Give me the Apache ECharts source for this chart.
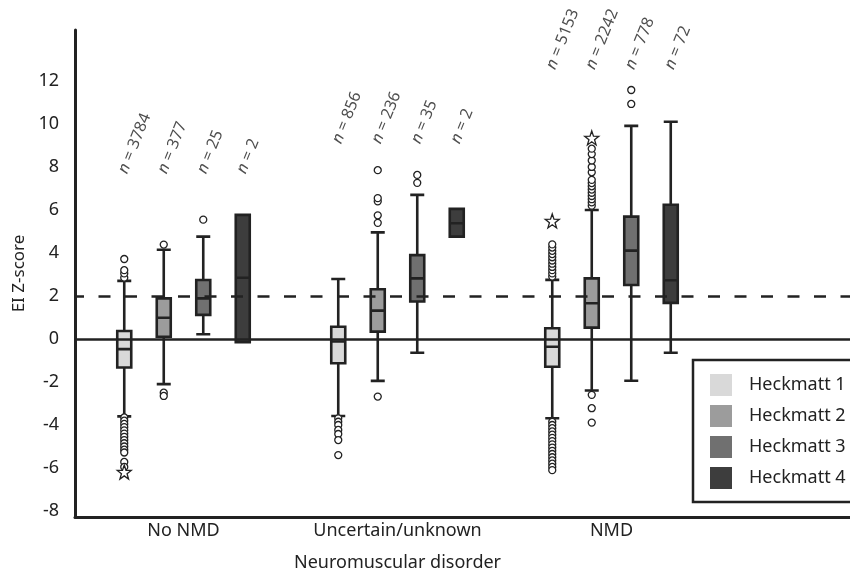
<!DOCTYPE html>
<html><head><meta charset="utf-8">
<script src="https://cdn.jsdelivr.net/npm/echarts@6/dist/echarts.min.js"></script>
<style>html,body{margin:0;padding:0;background:#fff}#c{width:850px;height:574px}</style>
</head><body><div id="c"></div>
<script>
// ---------------- DATA ----------------
const categories = ['No NMD', 'Uncertain/unknown', 'NMD'];
const seriesNames = ['Heckmatt 1', 'Heckmatt 2', 'Heckmatt 3', 'Heckmatt 4'];
const yTickLabels = [-8, -6, -4, -2, 0, 2, 4, 6, 8, 10, 12];
const referenceLines = [0, 2];

// [lower whisker, Q1, median, Q3, upper whisker] per category
const heckmatt1Box = [[-3.6, -1.33, -0.47, 0.37, 2.7], [-3.58, -1.13, -0.12, 0.57, 2.79], [-3.69, -1.29, -0.36, 0.5, 2.75]];
const heckmatt2Box = [[-2.1, 0.1, 0.99, 1.89, 4.15], [-1.95, 0.34, 1.32, 2.31, 4.96], [-2.4, 0.53, 1.66, 2.82, 6.0]];
const heckmatt3Box = [[0.22, 1.12, 1.89, 2.74, 4.76], [-0.64, 1.74, 2.82, 3.9, 6.7], [-1.94, 2.51, 4.11, 5.69, 9.91]];
const heckmatt4Box = [[-0.15, -0.15, 2.85, 5.77, 5.77], [4.76, 4.76, 5.38, 6.05, 6.05], [-0.64, 1.68, 2.73, 6.24, 10.1]];

// outliers (circles) per category
const heckmatt1Outliers = [
  [2.85, 3.05, 3.2, 3.72, -3.65, -3.8, -3.95, -4.1, -4.25, -4.4, -4.55, -4.7, -4.85, -5.0, -5.15, -5.28, -5.72, -5.95],
  [-3.69, -3.85, -4.0, -4.23, -4.42, -4.7, -5.4],
  [2.9, 3.05, 3.2, 3.35, 3.5, 3.65, 3.8, 3.95, 4.1, 4.25, 4.4, -3.85, -4.0, -4.15, -4.3, -4.45, -4.6, -4.75, -4.9, -5.05, -5.2, -5.35, -5.5, -5.65, -5.8, -5.95, -6.1]
];
const heckmatt2Outliers = [
  [4.39, -2.5, -2.65],
  [5.4, 5.75, 6.4, 6.55, 7.85, -2.68],
  [6.2, 6.35, 6.5, 6.65, 6.8, 6.95, 7.1, 7.25, 7.4, 7.75, 8.0, 8.3, 8.6, 8.85, -2.6, -3.22, -3.89]
];
const heckmatt3Outliers = [[5.55], [7.26, 7.63], [10.93, 11.58]];
const heckmatt4Outliers = [[], [], []];

// extreme values (stars) per category
const heckmatt1Extremes = [[-6.19], [], [5.49]];
const heckmatt2Extremes = [[], [], [9.35]];
const heckmatt3Extremes = [[], [], []];
const heckmatt4Extremes = [[], [], []];

// sample sizes per category
const heckmatt1N = [3784, 856, 5153];
const heckmatt2N = [377, 236, 2242];
const heckmatt3N = [25, 35, 778];
const heckmatt4N = [2, 2, 72];

// ---------------- LAYOUT / STYLE ----------------
const boxes = [heckmatt1Box, heckmatt2Box, heckmatt3Box, heckmatt4Box];
const outliers = [heckmatt1Outliers, heckmatt2Outliers, heckmatt3Outliers, heckmatt4Outliers];
const extremes = [heckmatt1Extremes, heckmatt2Extremes, heckmatt3Extremes, heckmatt4Extremes];
const counts = [heckmatt1N, heckmatt2N, heckmatt3N, heckmatt4N];
const fills = ['#d9d9d9', '#9c9c9c', '#707070', '#3d3d3d'];
const INK = '#222222';
const FONT = 'Noto Sans';
const TOP = 30, BOTTOM = 57, Y_MIN = -8.28, Y_MAX = 14.37;
const GROUP_LEFT = 76.5, GROUP_WIDTH = 642, STEP = 39.5;
const nLabelY = [7.9, 9.3, 12.75];
const STAR = 'path://M50 0 L61.8 33.8 L97.6 34.5 L69 56.2 L79.4 90.5 L50 70 L20.6 90.5 L31 56.2 L2.4 34.5 L38.2 33.8 Z';

const grids = [
  {left: 75, right: -6, top: TOP, bottom: BOTTOM, outerBoundsMode: 'none', containLabel: false},
  {left: GROUP_LEFT, width: GROUP_WIDTH, top: TOP, bottom: BOTTOM, outerBoundsMode: 'none', containLabel: false}
];
for (let i = 0; i < 4; i++) grids.push({left: GROUP_LEFT + (i - 1.5) * STEP, width: GROUP_WIDTH, top: TOP, bottom: BOTTOM, outerBoundsMode: 'none', containLabel: false});

const xAxes = [
  {type: 'value', gridIndex: 0, min: 0, max: 1, axisLine: {show: true, onZero: false, lineStyle: {color: INK, width: 3}},
   axisTick: {show: false}, axisLabel: {show: false}, splitLine: {show: false}},
  {type: 'category', gridIndex: 1, data: categories, axisLine: {show: false, onZero: false}, axisTick: {show: false},
   axisLabel: {color: INK, fontSize: 18, fontFamily: FONT, margin: 5, interval: 0},
   name: 'Neuromuscular disorder', nameLocation: 'middle', nameGap: 37,
   nameTextStyle: {color: INK, fontSize: 18, fontFamily: FONT}}
];
const yAxes = [
  {type: 'value', gridIndex: 0, min: Y_MIN, max: Y_MAX,
   axisLine: {show: true, onZero: false, lineStyle: {color: INK, width: 3}},
   axisTick: {show: false}, splitLine: {show: false},
   axisLabel: {color: INK, fontSize: 18, fontFamily: FONT, margin: 16, customValues: yTickLabels},
   name: 'EI Z-score', nameLocation: 'middle', nameGap: 46,
   nameTextStyle: {color: INK, fontSize: 17, fontFamily: FONT}},
  {type: 'value', gridIndex: 1, min: Y_MIN, max: Y_MAX, show: false}
];
for (let i = 0; i < 4; i++) {
  xAxes.push({type: 'category', gridIndex: 2 + i, data: categories, show: false});
  yAxes.push({type: 'value', gridIndex: 2 + i, min: Y_MIN, max: Y_MAX, show: false});
}

const series = [{
  type: 'line', xAxisIndex: 0, yAxisIndex: 0, data: [[0, 0]], symbol: 'none', z: 1, silent: true,
  lineStyle: {opacity: 0},
  markLine: {
    symbol: 'none', silent: true, label: {show: false},
    data: referenceLines.map((v, k) => ({yAxis: v, lineStyle: {color: INK, width: 2.5, type: k === 0 ? 'solid' : [12, 14.5], dashOffset: 3}}))
  }
}];

for (let i = 0; i < 4; i++) {
  series.push({
    name: seriesNames[i], type: 'boxplot', xAxisIndex: 2 + i, yAxisIndex: 2 + i, z: 3,
    data: boxes[i], boxWidth: [14, 14],
    itemStyle: {color: fills[i], borderColor: INK, borderWidth: 2.6},
    emphasis: {disabled: true}
  });
  const pts = [];
  outliers[i].forEach((arr, g) => arr.forEach(v => pts.push([g, v])));
  series.push({
    type: 'scatter', xAxisIndex: 2 + i, yAxisIndex: 2 + i, z: 4, silent: true,
    data: pts, symbol: 'circle', symbolSize: 7,
    itemStyle: {color: '#fff', borderColor: INK, borderWidth: 1.3, opacity: 1}
  });
  const stars = [];
  extremes[i].forEach((arr, g) => arr.forEach(v => stars.push([g, v])));
  series.push({
    type: 'scatter', xAxisIndex: 2 + i, yAxisIndex: 2 + i, z: 4, silent: true,
    data: stars, symbol: STAR, symbolSize: 14,
    itemStyle: {color: '#fff', borderColor: INK, borderWidth: 1.3, opacity: 1}
  });
  series.push({
    type: 'scatter', xAxisIndex: 2 + i, yAxisIndex: 2 + i, z: 5, silent: true,
    data: counts[i].map((n, g) => ({value: [g, nLabelY[g]]})),
    symbolSize: 1, itemStyle: {color: 'rgba(0,0,0,0)'},
    label: {
      show: true, position: 'inside', rotate: 68, align: 'left', verticalAlign: 'middle', offset: [-4, 0],
      color: INK, fontSize: 16, fontFamily: FONT,
      formatter: p => '{i|n} = ' + counts[i][p.dataIndex],
      rich: {i: {fontStyle: 'italic', fontSize: 16, fontFamily: FONT, color: INK}}
    }
  });
}

const chart = echarts.init(document.getElementById('c'), null, {renderer: 'canvas'});
chart.setOption({
  backgroundColor: '#fff',
  animation: false,
  grid: grids,
  xAxis: xAxes,
  yAxis: yAxes,
  legend: {
    data: seriesNames.map((n, i) => ({name: n, itemStyle: {color: fills[i], borderWidth: 0}})),
    orient: 'vertical', left: 693, top: 360,
    padding: [14, 30, 13, 17], itemWidth: 22, itemHeight: 22, itemGap: 9, icon: 'rect',
    borderColor: INK, borderWidth: 2.5, backgroundColor: '#fff', selectedMode: false,
    itemStyle: {borderWidth: 0},
    textStyle: {color: INK, fontSize: 18, fontFamily: FONT, padding: [0, 0, 0, 12]}
  },
  series: series
});
</script>
</body></html>
